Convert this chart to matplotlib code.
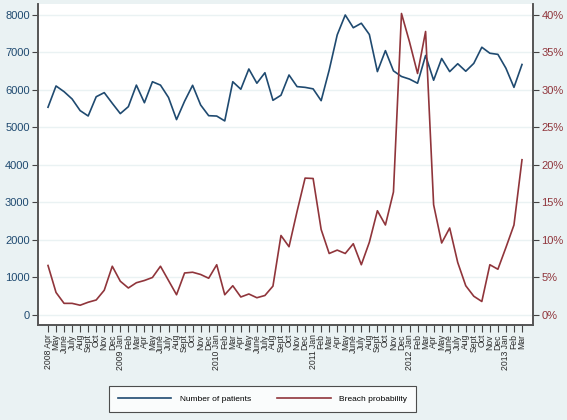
import matplotlib
matplotlib.use("Agg")
import matplotlib.pyplot as plt
import numpy as np

plt.rcParams['font.family'] = ['Liberation Sans', 'DejaVu Sans']

months = ["Apr", "May", "June", "July", "Aug", "Sept", "Oct", "Nov", "Dec",
          "Jan", "Feb", "Mar"]
start_year = 2008
n_months = 60

patients = [5540, 6107, 5955, 5760, 5450, 5307, 5820, 5930, 5645,
            5370, 5555, 6130, 5660, 6220, 6130, 5800, 5210, 5700, 6125, 5600, 5315,
            5305, 5175, 6220, 6020, 6560, 6180, 6460, 5725, 5860, 6400, 6090, 6070,
            6030, 5715, 6530, 7470, 8000, 7660, 7780, 7480, 6490, 7050, 6510, 6360,
            6290, 6180, 6920, 6260, 6840, 6490, 6700, 6500, 6710, 7140, 6980, 6950,
            6580, 6070, 6680]

breach_pct = [6.6, 3.0, 1.55, 1.55, 1.3, 1.7, 2.0, 3.3, 6.5,
              4.5, 3.6, 4.3, 4.6, 5.0, 6.5, 4.6, 2.7, 5.6, 5.7, 5.4, 4.9,
              6.7, 2.7, 3.9, 2.4, 2.8, 2.3, 2.6, 3.85, 10.6, 9.1, 13.8, 18.25,
              18.2, 11.4, 8.2, 8.65, 8.2, 9.5, 6.7, 9.7, 13.9, 12.0, 16.4, 40.2,
              36.4, 32.2, 37.8, 14.7, 9.6, 11.6, 7.0, 3.9, 2.5, 1.8, 6.7, 6.1,
              9.0, 12.0, 20.7]

left_ticks = [0, 1000, 2000, 3000, 4000, 5000, 6000, 7000, 8000]
right_ticks = [0, 5, 10, 15, 20, 25, 30, 35, 40]

# month labels, the year goes in front of January (and the first month)
tick_labels = []
for i in range(n_months):
    m = months[i % 12]
    year = start_year + (i + 3) // 12
    if i == 0 or m == "Jan":
        tick_labels.append(f"{year} {m}")
    else:
        tick_labels.append(m)

navy = "#1f4a70"
maroon = "#90353b"
bg = "#eaf2f3"

fig = plt.figure(figsize=(5.67, 4.2), dpi=100, facecolor=bg)
ax = fig.add_axes([38 / 567, 1 - 325 / 420, (533 - 38) / 567, (325 - 4) / 420])
ax.set_facecolor("white")

x = np.arange(n_months)
ax.plot(x, patients, color=navy, lw=1.2, label="Number of patients")
ax.set_xlim(-1.245, 60.37)
ax.set_ylim(-267, 8293)
ax.set_yticks(left_ticks)
ax.set_yticklabels([str(t) for t in left_ticks], color=navy, fontsize=8)
ax.yaxis.grid(True, color=bg, lw=1)
ax.set_axisbelow(True)

ax.set_xticks(x)
ax.set_xticklabels(tick_labels, rotation=90, fontsize=6.2, color="#2a2a2a")
ax.tick_params(axis="x", length=5, width=0.8, color="#444444", pad=1.5)
ax.tick_params(axis="y", length=4, width=0.8, color="#444444", pad=2)

ax2 = ax.twinx()
ax2.plot(x, breach_pct, color=maroon, lw=1.2, label="Breach probability")
ax2.set_ylim(-267 / 200, 8293 / 200)
ax2.set_yticks(right_ticks)
ax2.set_yticklabels([f"{t}%" for t in right_ticks], color=maroon, fontsize=8)
ax2.tick_params(axis="y", length=4, width=0.8, color="#444444", pad=2)

for a in (ax, ax2):
    a.spines["top"].set_visible(False)
    for side in ("left", "right", "bottom"):
        a.spines[side].set_color("#555555")
        a.spines[side].set_linewidth(1.2)

h1, l1 = ax.get_legend_handles_labels()
h2, l2 = ax2.get_legend_handles_labels()
leg = fig.legend(h1 + h2, l1 + l2, loc="center", ncol=2,
                 bbox_to_anchor=(262.5 / 567, 1 - 399 / 420),
                 frameon=True, fancybox=False, fontsize=6,
                 handlelength=6.4, columnspacing=3.2, borderpad=1.1,
                 handletextpad=1.0, borderaxespad=0)
leg.get_frame().set_edgecolor("#222222")
leg.get_frame().set_linewidth(0.8)

fig.savefig("out.png", dpi=100, facecolor=bg)
